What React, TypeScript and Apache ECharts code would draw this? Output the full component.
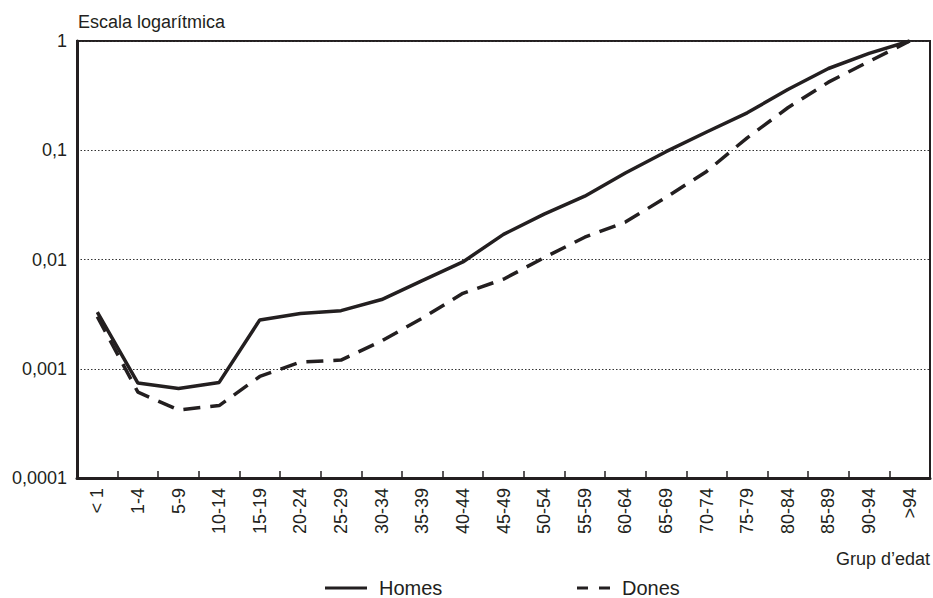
import React, { useEffect, useRef } from 'react';
import * as echarts from 'echarts';

const ageGroups = ['< 1', '1-4', '5-9', '10-14', '15-19', '20-24', '25-29', '30-34', '35-39', '40-44', '45-49', '50-54', '55-59', '60-64', '65-69', '70-74', '75-79', '80-84', '85-89', '90-94', '>94'];
const homes = [0.0033, 0.00074, 0.00066, 0.00075, 0.0028, 0.0032, 0.0034, 0.0043, 0.0064, 0.0095, 0.017, 0.026, 0.038, 0.062, 0.097, 0.147, 0.22, 0.36, 0.56, 0.77, 1];
const dones = [0.003, 0.00061, 0.00042, 0.00046, 0.00085, 0.00115, 0.0012, 0.0018, 0.0029, 0.0049, 0.0066, 0.0104, 0.016, 0.022, 0.037, 0.064, 0.13, 0.245, 0.42, 0.65, 1];
const yTickLabels = ['0,0001', '0,001', '0,01', '0,1', '1'];

const INK = '#231f20';
const FONT = '"Liberation Sans", Arial, Helvetica, sans-serif';

export default function App() {
  const ref = useRef<HTMLDivElement>(null);
  useEffect(() => {
    if (!ref.current) return;
    const chart = echarts.init(ref.current, undefined, { renderer: 'svg' });
    chart.setOption({
      animation: false,
      backgroundColor: '#ffffff',
      textStyle: { fontFamily: FONT, color: INK },
      grid: {
        left: 77,
        right: 3,
        top: 41,
        bottom: 120,
        show: true,
        borderColor: INK,
        borderWidth: 2,
        backgroundColor: 'transparent',
      },
      xAxis: {
        type: 'category',
        data: ageGroups,
        boundaryGap: true,
        axisLine: { show: true, lineStyle: { color: INK, width: 3 } },
        axisTick: { show: true, inside: true, length: 7, alignWithLabel: false, lineStyle: { color: INK, width: 1.5 } },
        axisLabel: { rotate: 90, margin: 10, fontSize: 18, color: INK, fontFamily: FONT, interval: 0 },
        splitLine: { show: false },
      },
      yAxis: {
        type: 'log',
        logBase: 10,
        min: 0.0001,
        max: 1,
        axisLine: { show: true, lineStyle: { color: INK, width: 3 } },
        axisTick: { show: false },
        axisLabel: {
          margin: 10,
          fontSize: 18,
          color: INK,
          fontFamily: FONT,
          formatter: (v: number) => yTickLabels[Math.round(Math.log10(v)) + 4] ?? '',
        },
        splitLine: { show: true, lineStyle: { color: '#333', width: 1.2, type: [1.5, 2] } },
      },
      legend: [
        {
          data: [{ name: 'Homes', icon: 'rect' }],
          left: 325,
          top: 578,
          padding: 0,
          itemWidth: 42,
          itemHeight: 3,
          textStyle: { fontSize: 20, lineHeight: 20, color: INK, fontFamily: FONT, padding: [0, 0, 0, 7] },
        },
        {
          data: [{ name: 'Dones', icon: 'path://M0,0h11v3h-11z M22,0h11v3h-11z' }],
          left: 577,
          top: 578,
          padding: 0,
          itemWidth: 33,
          itemHeight: 3,
          textStyle: { fontSize: 20, lineHeight: 20, color: INK, fontFamily: FONT, padding: [0, 0, 0, 7] },
        },
      ],
      graphic: [
        {
          type: 'text',
          x: 78,
          y: 22,
          style: { text: 'Escala logarítmica', fontSize: 18, fontFamily: FONT, fill: INK, align: 'left', verticalAlign: 'middle' },
        },
        {
          type: 'text',
          x: 930,
          y: 559,
          style: { text: 'Grup d’edat', fontSize: 18, fontFamily: FONT, fill: INK, align: 'right', verticalAlign: 'middle' },
        },
      ],
      series: [
        {
          name: 'Homes',
          type: 'line',
          data: homes,
          symbol: 'none',
          showSymbol: false,
          lineStyle: { color: INK, width: 3.5, type: 'solid' },
          itemStyle: { color: INK },
        },
        {
          name: 'Dones',
          type: 'line',
          data: dones,
          symbol: 'none',
          showSymbol: false,
          lineStyle: { color: INK, width: 3.5, type: [17, 10] },
          itemStyle: { color: INK },
        },
      ],
    });
    return () => chart.dispose();
  }, []);
  return <div ref={ref} style={{ position: 'fixed', left: 0, top: 0, width: 933, height: 598 }} />;
}
